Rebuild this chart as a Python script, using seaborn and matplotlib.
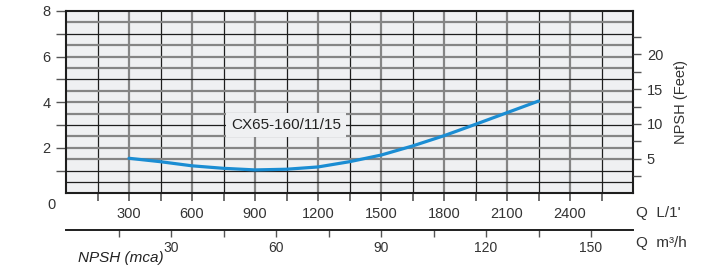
import numpy as np
import pandas as pd
import seaborn as sns
import matplotlib.pyplot as plt

# NPSH curve (flow in L/min, NPSH in metres)
flow_lpm = [300, 450, 600, 750, 900, 1050, 1200, 1350, 1500, 1650, 1800, 1950, 2100, 2250]
npsh_m = [1.54, 1.39, 1.21, 1.10, 1.03, 1.06, 1.16, 1.39, 1.68, 2.08, 2.53, 3.03, 3.54, 4.05]
model_name = "CX65-160/11/15"

x_labels = [300, 600, 900, 1200, 1500, 1800, 2100, 2400]
m3h_labels = [30, 60, 90, 120, 150]
y_labels = [2, 4, 6, 8]
feet_labels = [5, 10, 15, 20]

df = pd.DataFrame({"Q": flow_lpm, "NPSH": npsh_m})

sns.set_theme(style="white")
plt.rcParams['font.family'] = ['Liberation Sans', 'DejaVu Sans']

W, H = 704, 273
fig = plt.figure(figsize=(W / 100, H / 100), dpi=100)
L, R, T, B = 66, 633, 11, 193.4
ax = fig.add_axes([L / W, 1 - B / H, (R - L) / W, (B - T) / H])
ax.set_facecolor('#eff0f2')
ax.set_xlim(0, 2700)
ax.set_ylim(0, 8)

# grid: gray on every 300 / whole-even levels, black in between
for xv in np.arange(150, 2700, 150):
    if xv % 300 == 0:
        ax.axvline(xv, color='#858585', lw=1.6, zorder=1)
    else:
        ax.axvline(xv, color='#1e1e1e', lw=0.9, zorder=1)
for yv in np.arange(0.5, 8, 0.5):
    if yv % 2 == 1 or yv == 0.5:
        ax.axhline(yv, color='#1e1e1e', lw=0.9, zorder=1)
    else:
        ax.axhline(yv, color='#858585', lw=1.6, zorder=1)

sns.lineplot(data=df, x="Q", y="NPSH", ax=ax, color='#1b8dd3', lw=2.3, zorder=3)

ax.text(1048, 3.0, model_name, fontsize=11, ha='center', va='center', color='#222',
        bbox=dict(boxstyle='square,pad=0.3', fc='#eff0f2', ec='none'), zorder=4)

for s in ax.spines.values():
    s.set_color('#1e1e1e')
    s.set_linewidth(1.5)

ax.set_xticks(x_labels)
ax.set_xticklabels([str(v) for v in x_labels], fontsize=10.5, color='#333')
ax.set_xticks(np.arange(150, 2700, 300), minor=True)
ax.tick_params(axis='x', which='both', direction='out', length=6, width=1.2,
               color='#555', pad=4, bottom=True)
ax.set_yticks(y_labels)
ax.set_yticklabels([str(v) for v in y_labels], fontsize=10.5, color='#333')
ax.set_yticks([1, 3, 5, 7], minor=True)
ax.tick_params(axis='y', which='both', direction='out', length=7, width=1.0,
               color='#555', pad=4, left=True)
ax.set_xlabel("")
ax.set_ylabel("")

# feet scale on the right
ax_ft = ax.twinx()
ax_ft.set_ylim(0, 8 * 3.2808)
ax_ft.set_yticks(feet_labels)
ax_ft.set_yticklabels([str(v) for v in feet_labels], fontsize=10.5, color='#333')
ax_ft.set_yticks([2.5, 7.5, 12.5, 17.5, 22.5], minor=True)
ax_ft.tick_params(axis='y', which='both', direction='out', length=6, width=1.0,
                  color='#555', pad=4, right=True)
ax_ft.set_ylabel("NPSH (Feet)", fontsize=10.5, color='#333', labelpad=8)
ax_ft.grid(False)
for s in ax_ft.spines.values():
    s.set_visible(False)

# m3/h scale below
ax_m3 = fig.add_axes([L / W, 1 - 230 / H, (R - L) / W, 0.001])
ax_m3.set_xlim(0, 2700 * 0.06)
ax_m3.patch.set_visible(False)
for k in ['top', 'left', 'right']:
    ax_m3.spines[k].set_visible(False)
ax_m3.spines['bottom'].set_color('#1e1e1e')
ax_m3.spines['bottom'].set_linewidth(1.4)
ax_m3.set_yticks([])
ax_m3.set_xticks(m3h_labels)
ax_m3.set_xticklabels([str(v) for v in m3h_labels], fontsize=10, color='#333')
ax_m3.set_xticks(np.arange(15, 160, 30), minor=True)
ax_m3.tick_params(axis='x', which='both', direction='out', length=5, width=1.0,
                  color='#555', pad=3, bottom=True)

fig.text(52 / W, 1 - 205 / H, "0", fontsize=10.5, color='#333', ha='center', va='center')
fig.text(636 / W, 1 - 213 / H, "Q  L/1'", fontsize=11, color='#333', ha='left', va='center')
fig.text(636 / W, 1 - 243 / H, "Q  m\u00b3/h", fontsize=11, color='#333', ha='left', va='center')
fig.text(78 / W, 1 - 258 / H, "NPSH (mca)", fontsize=11, style='italic', color='#222',
         ha='left', va='center')

fig.savefig("out.png", dpi=100)
